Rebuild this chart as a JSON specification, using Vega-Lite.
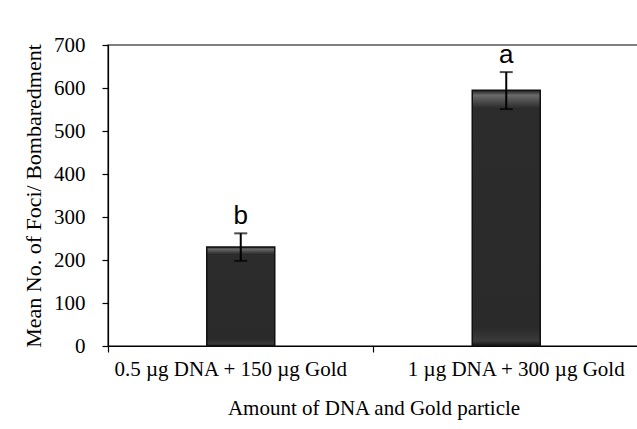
{
  "$schema": "https://vega.github.io/schema/vega-lite/v6.json",
  "autosize": {"type": "none"},
  "padding": {"left": 108, "top": 45, "right": 0, "bottom": 83},
  "width": 531,
  "height": 301,
  "background": "white",
  "config": {
    "view": {"stroke": "#555", "strokeWidth": 1.5},
    "font": "Liberation Serif",
    "axis": {"labelFont": "Liberation Serif", "titleFont": "Liberation Serif", "titleFontWeight": "normal", "domainColor": "#000", "tickColor": "#000", "labelColor": "#000", "titleColor": "#000", "grid": false, "domainWidth": 1.2, "tickWidth": 1.2, "labelLimit": 0}
  },
  "data": {
    "values": [
      {"treatment": "0.5 µg DNA + 150 µg Gold", "mean": 230, "lower": 198, "upper": 262, "letter": "b"},
      {"treatment": "1 µg DNA + 300 µg Gold", "mean": 595, "lower": 551, "upper": 637, "letter": "a"}
    ]
  },
  "encoding": {
    "x": {
      "field": "treatment", "type": "nominal", "sort": null,
      "scale": {"paddingInner": 0, "paddingOuter": 0},
      "axis": {"title": "Amount of DNA and Gold particle", "labelAngle": 0, "labelFontSize": 21, "titleFontSize": 21, "bandPosition": 0, "tickSize": 6, "labelPadding": 6, "titlePadding": 18,
        "labelOffset": {"condition": {"test": "datum.value === '0.5 µg DNA + 150 µg Gold'", "value": -10}, "value": 10}}
    }
  },
  "layer": [
    {
      "mark": {"type": "bar", "size": 68, "stroke": "#111", "strokeWidth": 1.5,
        "fill": {"gradient": "linear", "x1": 0, "y1": 0, "x2": 0, "y2": 1, "stops": [
          {"offset": 0, "color": "#1e1e1e"},
          {"offset": 0.02, "color": "#6a6a6a"},
          {"offset": 0.07, "color": "#2c2c2c"},
          {"offset": 0.93, "color": "#2a2a2a"},
          {"offset": 0.98, "color": "#3a3a3a"},
          {"offset": 1, "color": "#151515"}
        ]}},
      "encoding": {
        "y": {"field": "mean", "type": "quantitative", "scale": {"domain": [0, 700]},
          "axis": {"title": "Mean No. of Foci/ Bombaredment", "values": [0,100,200,300,400,500,600,700], "labelFontSize": 21, "titleFontSize": 22, "tickSize": 6, "labelPadding": 17, "titlePadding": 8}}
      }
    },
    {
      "mark": {"type": "rule", "color": "#000", "strokeWidth": 2},
      "encoding": {"y": {"field": "lower", "type": "quantitative"}, "y2": {"field": "upper"}}
    },
    {
      "mark": {"type": "tick", "color": "#000", "size": 13, "thickness": 2},
      "encoding": {"y": {"field": "upper", "type": "quantitative"}}
    },
    {
      "mark": {"type": "tick", "color": "#000", "size": 13, "thickness": 2},
      "encoding": {"y": {"field": "lower", "type": "quantitative"}}
    },
    {
      "mark": {"type": "text", "font": "Liberation Sans", "fontSize": 26, "baseline": "alphabetic", "dy": -9, "color": "#000"},
      "encoding": {"y": {"field": "upper", "type": "quantitative"}, "text": {"field": "letter"}}
    }
  ]
}
